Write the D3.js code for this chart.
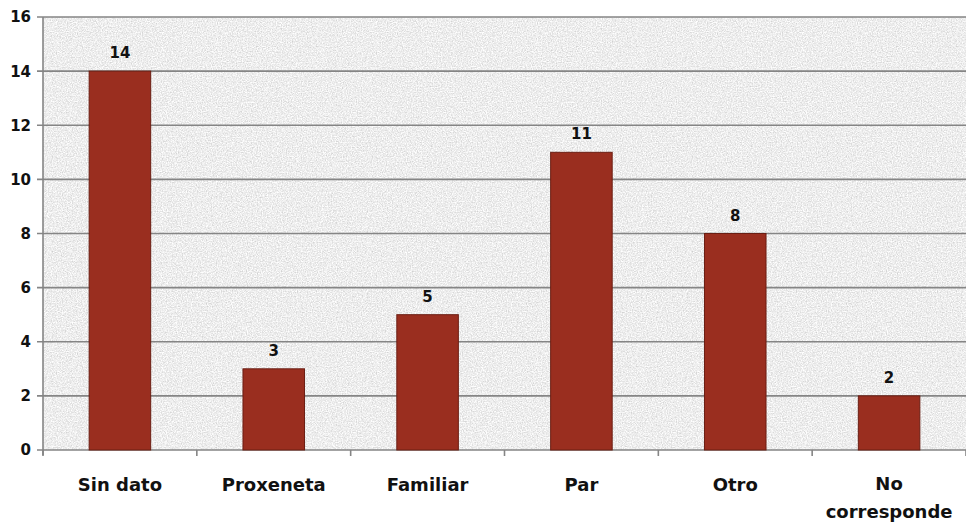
<!DOCTYPE html>
<html><head><meta charset="utf-8">
<script src="https://cdn.jsdelivr.net/npm/d3@7"></script>
<style>body{margin:0;background:#fff;}svg{display:block;font-family:"DejaVu Sans",Verdana,sans-serif;}</style>
</head><body><svg id="c" width="966" height="523"></svg>
<script>
const categories = ["Sin dato","Proxeneta","Familiar","Par","Otro","No corresponde"];
const values = [14,3,5,11,8,2];
const yTicks = [0,2,4,6,8,10,12,14,16];

const svg = d3.select("#c");
const m = {left:43, right:0, top:17, bottom:73};
const W = 966, H = 523;
const x = d3.scaleBand().domain(categories).range([m.left, W - m.right]).padding(0);
const y = d3.scaleLinear().domain([0,16]).range([H - m.bottom, m.top]);

const defs = svg.append("defs");
const f = defs.append("filter").attr("id","grain").attr("x",0).attr("y",0).attr("width","100%").attr("height","100%");
f.append("feTurbulence").attr("type","fractalNoise").attr("baseFrequency",0.8).attr("numOctaves",2).attr("seed",5).attr("result","n");
f.append("feColorMatrix").attr("in","n").attr("type","matrix")
 .attr("values","0.6 0 0 0 0.55  0.6 0 0 0 0.55  0.6 0 0 0 0.55  0 0 0 0 1");

const x0 = m.left, x1 = W - m.right, y0 = y(16), y1 = y(0);
svg.append("rect").attr("x",x0).attr("y",y0).attr("width",x1-x0).attr("height",y1-y0).attr("fill","#d6d6d6");
svg.append("rect").attr("x",x0).attr("y",y0).attr("width",x1-x0).attr("height",y1-y0).attr("filter","url(#grain)");

// gridlines
svg.append("g").selectAll("line").data(yTicks).join("line")
  .attr("x1",x0-6).attr("x2",x1).attr("y1",d=>y(d)).attr("y2",d=>y(d))
  .attr("stroke","#858585").attr("stroke-width",1.6);

// y axis
svg.append("line").attr("x1",x0).attr("x2",x0).attr("y1",y0).attr("y2",y1+5).attr("stroke","#858585").attr("stroke-width",1.6);
svg.append("g").selectAll("text").data(yTicks).join("text")
  .attr("x",31).attr("y",d=>y(d)).attr("dy","0.36em").attr("text-anchor","end")
  .attr("font-size",15).attr("font-weight","bold").attr("fill","#111").text(d=>d);

// x ticks at boundaries
const bounds = categories.map(c=>x(c)).concat([x1]);
svg.append("g").selectAll("line").data(bounds).join("line")
  .attr("x1",d=>d).attr("x2",d=>d).attr("y1",y1).attr("y2",y1+6)
  .attr("stroke","#858585").attr("stroke-width",1.6);

// bars
const bw = x.bandwidth()*0.4;
svg.append("g").selectAll("rect").data(values).join("rect")
  .attr("x",(d,i)=>x(categories[i])+x.bandwidth()/2-bw/2)
  .attr("y",d=>y(d)).attr("width",bw).attr("height",d=>y(0)-y(d))
  .attr("fill","#9a2e1f").attr("stroke","#6b1e13").attr("stroke-width",1);

// value labels
svg.append("g").selectAll("text").data(values).join("text")
  .attr("x",(d,i)=>x(categories[i])+x.bandwidth()/2).attr("y",d=>y(d)-13)
  .attr("text-anchor","middle").attr("font-size",15).attr("font-weight","bold").attr("fill","#111").text(d=>d);

// category labels
const cl = svg.append("g").selectAll("text").data(categories).join("text")
  .attr("x",d=>x(d)+x.bandwidth()/2).attr("y",491)
  .attr("text-anchor","middle").attr("font-size",18).attr("font-weight","bold").attr("fill","#111");
cl.each(function(d){
  const words = d === "No corresponde" ? ["No","corresponde"] : [d];
  const t = d3.select(this);
  words.forEach((w,i)=>t.append("tspan").attr("x",x(d)+x.bandwidth()/2).attr("dy", i===0 ? (words.length>1? -1:0) : 28).text(w));
});
</script></body></html>
